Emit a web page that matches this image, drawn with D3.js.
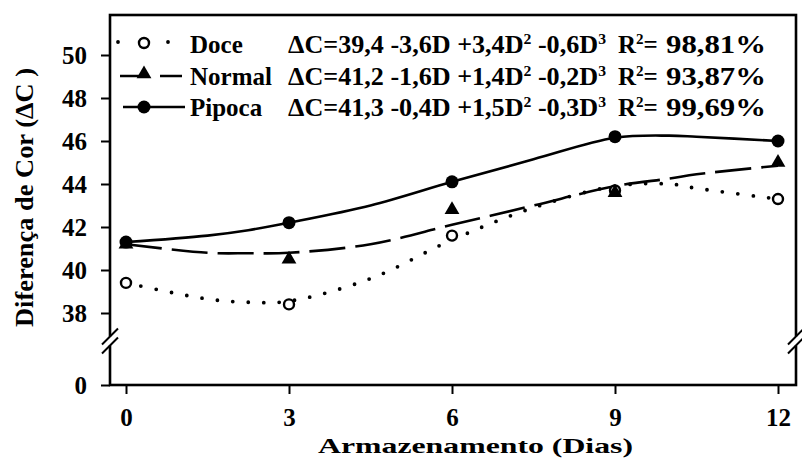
<!DOCTYPE html>
<html lang="pt">
<head>
  <meta charset="UTF-8">
  <title>Diferença de Cor durante o armazenamento</title>
  <script src="https://d3js.org/d3.v7.min.js"></script>
  <style>
    body, html {
      margin: 0;
      padding: 0;
      background-color: #fff;
      overflow: hidden;
    }

    svg text {
      font-family: "Liberation Serif", "Times New Roman", serif;
      font-weight: bold;
      fill: #000;
    }
  </style>
</head>
<body>

  <svg class="chart"></svg>

  <script>
    // Storage days and measured colour difference for each popcorn type
    const days = [0, 3, 6, 9, 12];
    const doce = [39.4, 38.4, 41.6, 43.7, 43.3];
    const normal = [41.2, 40.5, 42.8, 43.6, 45.0];
    const pipoca = [41.3, 42.2, 44.1, 46.2, 46.0];

    // Fitted regression curves, sampled along the storage period
    const fitDays = [0, 1.5, 2.25, 3, 4.5, 6, 7.5, 9, 10, 10.5, 12];
    const doceFit = [39.4, 38.65, 38.5, 38.55, 39.6, 41.4, 42.9, 43.9, 44.0, 43.8, 43.3];
    const normalFit = [41.2, 40.8, 40.78, 40.8, 41.2, 42.1, 43.0, 43.9, 44.25, 44.45, 44.85];
    const pipocaFit = [41.3, 41.6, 41.85, 42.2, 43.0, 44.1, 45.15, 46.15, 46.25, 46.2, 46.0];

    const xTicks = [0, 3, 6, 9, 12];
    const yTicks = [0, 38, 40, 42, 44, 46, 48, 50];

    const names = ["Doce", "Normal", "Pipoca"];
    const coefs = [
      ["39,4", "-3,6", "+3,4", "-0,6"],
      ["41,2", "-1,6", "+1,4", "-0,2"],
      ["41,3", "-0,4", "+1,5", "-0,3"]
    ];
    const r2 = ["98,81%", "93,87%", "99,69%"];

    const width = 802;
    const height = 461;
    const plot = { left: 110, right: 796, top: 15, bottom: 385 };

    const svg = d3.select("svg")
      .attr("width", width)
      .attr("height", height);

    const x = d3.scaleLinear()
      .domain([0, 12])
      .range([126, 778]);

    // broken axis: 0 sits at the bottom, 38..50 fills the upper part
    const y = d3.scaleLinear()
      .domain([0, 36, 50])
      .range([plot.bottom, 356, 55]);

    const series = [
      { name: "Doce", values: doce, fit: doceFit, dash: "0,15.5", width: 3.8, cap: "round" },
      { name: "Normal", values: normal, fit: normalFit, dash: "36,10", width: 2.6, cap: "butt" },
      { name: "Pipoca", values: pipoca, fit: pipocaFit, dash: null, width: 2.6, cap: "butt" }
    ];

    const line = d3.line()
      .x(d => x(d[0]))
      .y(d => y(d[1]))
      .curve(d3.curveCatmullRom.alpha(0.5));

    // frame
    svg.append("rect")
      .attr("x", plot.left)
      .attr("y", plot.top)
      .attr("width", plot.right - plot.left)
      .attr("height", plot.bottom - plot.top)
      .attr("fill", "none")
      .attr("stroke", "#000")
      .attr("stroke-width", 2.6);

    // axes
    const yAxis = svg.append("g")
      .attr("transform", `translate(${plot.left},0)`)
      .call(d3.axisLeft(y).tickValues(yTicks).tickSize(9).tickPadding(14).tickFormat(d3.format("d")));

    const xAxis = svg.append("g")
      .attr("transform", `translate(0,${plot.bottom})`)
      .call(d3.axisBottom(x).tickValues(xTicks).tickSize(9).tickPadding(14));

    [xAxis, yAxis].forEach(g => {
      g.select(".domain").remove();
      g.selectAll(".tick line").attr("stroke", "#000").attr("stroke-width", 2);
      g.selectAll(".tick text")
        .attr("font-size", 25)
        .attr("fill", "#000");
    });
    yAxis.selectAll(".tick text").attr("dy", "0.34em");
    xAxis.selectAll(".tick text").attr("dy", "0.71em");

    // axis break marks on both sides
    const breakY = y(36.7);
    [plot.left, plot.right].forEach(ax => {
      svg.append("rect")
        .attr("x", ax - 3)
        .attr("y", breakY - 4.5)
        .attr("width", 6)
        .attr("height", 9)
        .attr("fill", "#fff");
      [-4.5, 4.5].forEach(off => {
        svg.append("line")
          .attr("x1", ax - 8).attr("y1", breakY + off + 8)
          .attr("x2", ax + 8).attr("y2", breakY + off - 8)
          .attr("stroke", "#000")
          .attr("stroke-width", 2);
      });
    });

    // fitted curves
    svg.append("g")
      .selectAll("path")
      .data(series)
      .enter().append("path")
      .attr("d", s => line(fitDays.map((d, i) => [d, s.fit[i]])))
      .attr("fill", "none")
      .attr("stroke", "#000")
      .attr("stroke-width", s => s.width)
      .attr("stroke-linecap", s => s.cap)
      .attr("stroke-dasharray", s => s.dash);

    // markers
    function drawMarker(g, name, cx, cy) {
      if (name === "Doce") {
        g.append("circle")
          .attr("cx", cx).attr("cy", cy).attr("r", 5)
          .attr("fill", "#fff").attr("stroke", "#000").attr("stroke-width", 2.4);
      } else if (name === "Normal") {
        g.append("path")
          .attr("transform", `translate(${cx},${cy})`)
          .attr("d", d3.symbol(d3.symbolTriangle, 95)())
          .attr("fill", "#000");
      } else {
        g.append("circle")
          .attr("cx", cx).attr("cy", cy).attr("r", 6.5)
          .attr("fill", "#000");
      }
    }

    const marks = svg.append("g");
    series.forEach(s => {
      days.forEach((d, i) => drawMarker(marks, s.name, x(d), y(s.values[i])));
    });

    // legend
    const legend = svg.append("g");
    const rowY = [53, 85, 116];
    const symX = 144;

    legend.append("line")
      .attr("x1", 118).attr("x2", 169)
      .attr("y1", rowY[0] - 11).attr("y2", rowY[0] - 11)
      .attr("stroke", "#000").attr("stroke-width", 3.8)
      .attr("stroke-linecap", "round").attr("stroke-dasharray", "0,25");
    legend.append("line")
      .attr("x1", 120).attr("x2", 182)
      .attr("y1", rowY[1] - 9).attr("y2", rowY[1] - 9)
      .attr("stroke", "#000").attr("stroke-width", 2.6)
      .attr("stroke-dasharray", "27,13,22");
    legend.append("line")
      .attr("x1", 123).attr("x2", 185)
      .attr("y1", rowY[2] - 9).attr("y2", rowY[2] - 9)
      .attr("stroke", "#000").attr("stroke-width", 2.6);

    drawMarker(legend, "Doce", symX, rowY[0] - 10);
    drawMarker(legend, "Normal", symX, rowY[1] - 11);
    drawMarker(legend, "Pipoca", symX, rowY[2] - 9);

    names.forEach((n, i) => {
      legend.append("text")
        .attr("x", 190).attr("y", rowY[i])
        .attr("font-size", 25)
        .text(n);

      const c = coefs[i];
      const eq = legend.append("text")
        .attr("x", 288).attr("y", rowY[i])
        .attr("font-size", 25)
        .attr("textLength", 318)
        .attr("lengthAdjust", "spacingAndGlyphs");
      eq.append("tspan").text(`ΔC=${c[0]} ${c[1]}D ${c[2]}D`);
      eq.append("tspan").attr("dy", -9).attr("font-size", 15).text("2");
      eq.append("tspan").attr("dy", 9).text(` ${c[3]}D`);
      eq.append("tspan").attr("dy", -9).attr("font-size", 15).text("3");

      const rt = legend.append("text")
        .attr("x", 618).attr("y", rowY[i])
        .attr("font-size", 25);
      rt.append("tspan").text("R");
      rt.append("tspan").attr("dy", -9).attr("font-size", 15).text("2");
      rt.append("tspan").attr("dy", 9).text("=");

      legend.append("text")
        .attr("x", 666).attr("y", rowY[i])
        .attr("font-size", 25)
        .attr("textLength", 100)
        .attr("lengthAdjust", "spacingAndGlyphs")
        .text(r2[i]);
    });

    // axis titles
    svg.append("text")
      .attr("x", 318)
      .attr("y", 453)
      .attr("font-size", 22)
      .attr("textLength", 315)
      .attr("lengthAdjust", "spacingAndGlyphs")
      .text("Armazenamento (Dias)");

    svg.append("text")
      .attr("transform", "translate(33,327) rotate(-90)")
      .attr("font-size", 25)
      .attr("textLength", 259)
      .attr("lengthAdjust", "spacingAndGlyphs")
      .text("Diferença de Cor (ΔC )");
  </script>
</body>
</html>
